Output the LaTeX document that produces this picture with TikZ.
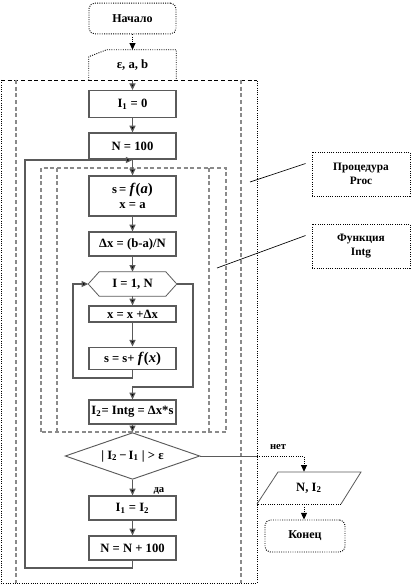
\documentclass[tikz,border=0pt]{standalone}
\usepackage{fontspec}
\setmainfont{Liberation Serif}
\usetikzlibrary{shapes.geometric, arrows.meta, positioning, calc}
\definecolor{FlowGray}{HTML}{5A5A5A}
\definecolor{FrameGray}{HTML}{8A8A8A}
\tikzset{
    % Node styles
    procbox/.style={
        rectangle,
        draw=FlowGray,
        line width=0.9pt,
        minimum width=65.25pt,
        minimum height=18pt,
        inner sep=1pt,
        align=center,
        font=\fontsize{9.5}{11.5}\selectfont\bfseries
    },
    termbox/.style={
        rectangle,
        rounded corners=4pt,
        draw=black,
        line width=0.7pt,
        densely dotted,
        minimum width=65.25pt,
        minimum height=23pt,
        align=center,
        font=\fontsize{9}{11}\selectfont\bfseries
    },
    plainbox/.style={
        inner sep=0pt,
        align=center,
        font=\fontsize{9.5}{11.5}\selectfont\bfseries
    },
    notebox/.style={
        rectangle,
        draw=black,
        line width=0.7pt,
        densely dotted,
        minimum width=73.5pt,
        minimum height=33pt,
        align=center,
        font=\fontsize{8.5}{11}\selectfont\bfseries
    },
    decisionbox/.style={
        diamond,
        draw=FlowGray,
        line width=0.7pt,
        aspect=2.87,
        minimum width=101pt,
        minimum height=35pt,
        inner sep=0pt,
        font=\fontsize{9.5}{11.5}\selectfont\bfseries
    },
    % Arrow styles
    flowline/.style={
        draw=FlowGray,
        line width=0.9pt
    },
    flowarrow/.style={
        flowline,
        -{Triangle[length=5pt,width=4.5pt,fill=black]}
    },
    dotarrow/.style={
        draw=black,
        line width=0.7pt,
        densely dotted,
        -{Triangle[length=5pt,width=4.5pt,fill=black]}
    },
    % Frame styles
    framedash/.style={
        draw=FrameGray,
        line width=1.1pt,
        dash pattern=on 3pt off 2pt
    },
    noteline/.style={
        draw=black,
        line width=0.5pt
    }
}

\begin{document}
\begin{tikzpicture}[x=0.75pt, y=-0.75pt]
    \useasboundingbox (0,0) rectangle (412,585);

    % Frames
    \draw[black, line width=0.6pt, dash pattern=on 3pt off 2pt] (1,80) -- (257,80);
    \draw[black, line width=0.7pt, densely dotted] (1,80) -- (1,583) -- (257,583) -- (257,80);
    \draw[framedash] (16,80) -- (16,583);
    \draw[framedash] (241,80) -- (241,583);
    \draw[framedash] (41,432) -- (41,168) -- (226,168) -- (226,432) -- cycle;
    \draw[framedash] (57,168) -- (57,432);
    \draw[framedash] (209,168) -- (209,432);

    % Nodes
    \node[termbox] (start) at (132.5,18.5) {Начало};
    \node[plainbox, minimum width=65.25pt, minimum height=22.5pt] (input) at (132.5,65) {ε, a, b};
    \draw[black, line width=0.7pt, densely dotted] (input.south west) -- ($(input.north west)+(0,7)$)
        -- ($(input.north west)+(18,0)$) -- (input.north east) -- (input.south east);
    \node[procbox, minimum height=20pt] (i1) at (132.5,104) {I\textsubscript{1} = 0};
    \node[procbox, minimum height=19.5pt] (n100) at (132.5,146) {N = 100};
    \node[procbox, minimum height=30pt] (sfa) at (132.5,196)
        {s\,= \fontsize{11}{12}\selectfont\textit{f}(\textit{a})\\x = a};
    \node[procbox] (dx) at (132.5,244) {Δx = (b-a)/N};
    \node[plainbox, minimum width=66pt, minimum height=18pt] (loop) at (132.5,284) {I = 1, N};
    \draw[flowline, line width=0.6pt] (loop.west) -- ($(loop.north west)+(11,0)$)
        -- ($(loop.north east)+(-11,0)$) -- (loop.east)
        -- ($(loop.south east)+(-11,0)$) -- ($(loop.south west)+(11,0)$) -- cycle;
    \node[procbox, minimum height=12pt] (xinc) at (132.5,314) {x = x +Δx};
    \node[procbox, minimum height=17pt] (ssum) at (132.5,358.5)
        {s = s+ \fontsize{11}{12}\selectfont\textit{f}(\textit{x})};
    \node[procbox] (i2) at (132.5,412) {I\textsubscript{2}= Intg = Δx*s};
    \node[decisionbox] (cond) at (132.5,456) {| I\textsubscript{2}\,−\,I\textsubscript{1} | > ε};
    \node[procbox] (i1i2) at (132.5,508) {I\textsubscript{1} = I\textsubscript{2}};
    \node[procbox] (nn) at (132.5,548) {N = N + 100};
    \node[plainbox, minimum width=60pt, minimum height=24pt] (out) at (309,488) {N, I\textsubscript{2}};
    \draw[flowline, line width=0.6pt] ($(out)+(-52,16)$) -- ($(out)+(-31,-16)$)
        -- ($(out)+(52,-16)$) -- ($(out)+(32,16)$);
    \draw[black, line width=0.7pt, densely dotted] ($(out)+(32,16)$) -- ($(out)+(-52,16)$);
    \node[termbox, minimum width=60pt, minimum height=24pt] (end) at (305,536) {Конец};

    % Notes
    \node[notebox] (proc) at (361,174) {Процедура\\Proc};
    \node[notebox] (func) at (361,246) {Функция\\Intg};
    \coordinate (pa) at (250,182);
    \coordinate (fa) at (217,268);
    \draw[noteline] (pa) -- ($(proc.north west)+(-6,12)$);
    \draw[noteline] (fa) -- ($(func.north west)+(-6,12)$);

    % Connectors
    \coordinate (j1) at (132.5,160);
    \coordinate (lb) at (25,568);
    \coordinate (lb2) at (73,378);
    \coordinate (rb2) at (193,387);
    \coordinate (ob) at (257,456);
    \coordinate (nb) at (304,456);
    \draw[dotarrow] (start) -- (input);
    \draw[flowarrow] (input) -- (i1);
    \draw[flowarrow] (i1) -- (n100);
    \draw[flowarrow] (n100) -- (sfa);
    \draw[flowarrow] (nn.south) |- (lb) |- (j1);
    \draw[flowarrow] (sfa) -- (dx);
    \draw[flowarrow] (dx) -- (loop.north);
    \draw[flowarrow] (loop.south) -- (xinc);
    \draw[flowarrow] (xinc) -- (ssum);
    \draw[flowarrow] (ssum.south) |- (lb2) |- (loop.west);
    \draw[flowarrow] (loop.east) -| (rb2) -| (i2.north);
    \draw[flowarrow] (i2) -- (cond.north);
    \draw[flowarrow] (cond.south) -- (i1i2)
        node[pos=0.7, right=12pt, font=\fontsize{8}{9}\selectfont\bfseries] {да};
    \draw[flowarrow] (i1i2) -- (nn);
    \draw[flowline, line width=0.6pt] (cond.east) -- (ob);
    \draw[dotarrow] (ob) -- (nb)
        node[pos=0.45, above=1pt, font=\fontsize{8}{9}\selectfont\bfseries] {нет}
        -- (nb |- out.north);
    \draw[dotarrow] (out.south -| nb) -- (nb |- end.north);
\end{tikzpicture}
\end{document}
